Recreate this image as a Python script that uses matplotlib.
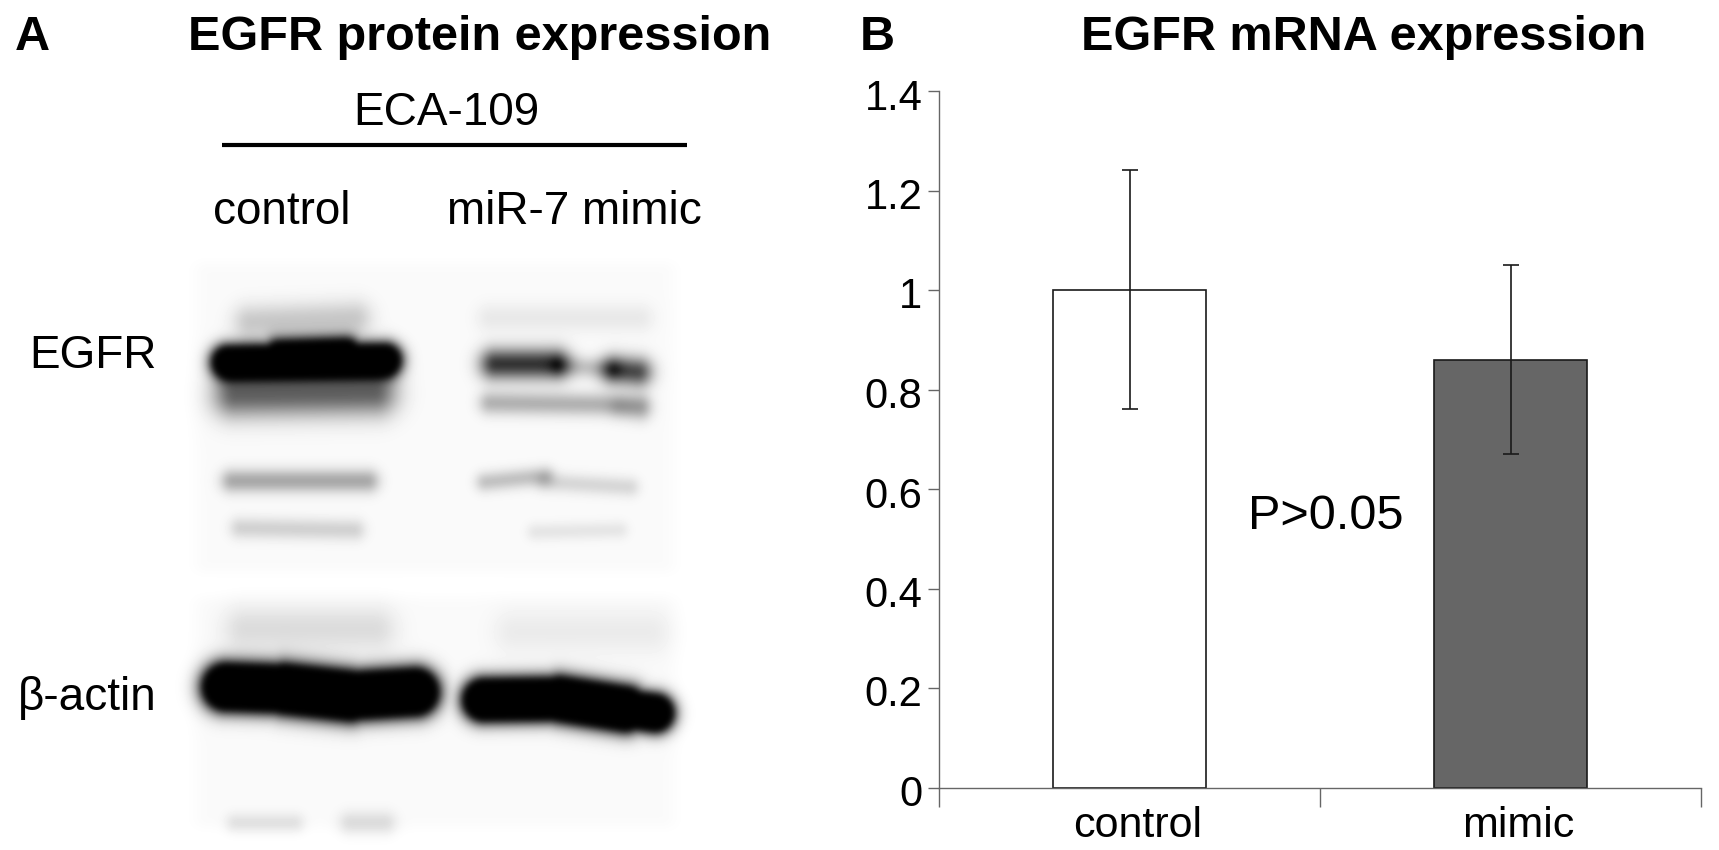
#!/usr/bin/env python3
"""
Western blot panel (A) and EGFR mRNA bar chart (B).
"""

import matplotlib
matplotlib.use('Agg')
import matplotlib.pyplot as plt
import matplotlib.transforms as mtrans
import numpy as np

plt.rcParams['font.family'] = ['Liberation Sans', 'DejaVu Sans']

# Bar chart values
categories = ['control', 'mimic']
means = [1.0, 0.86]
err_lower = [0.24, 0.19]
err_upper = [0.242, 0.191]
bar_colors = ['white', '#666666']
y_ticks = [0, 0.2, 0.4, 0.6, 0.8, 1, 1.2, 1.4]
y_tick_labels = ['0', '0.2', '0.4', '0.6', '0.8', '1', '1.2', '1.4']

# Blot bands: x0, y0, x1, y1, blur, strength (pixels)
faint_bands = [
    # control lane, EGFR part
    (235, 395, 375, 393, 22, 0.6),
    (250, 322, 355, 318, 17, 0.2),
    (232, 481, 368, 481, 11, 0.34),
    (240, 528, 355, 530, 10, 0.17),
    # mimic lane, EGFR part
    (495, 364, 555, 364, 15, 0.8),
    (615, 370, 638, 372, 14, 0.72),
    (560, 366, 612, 369, 10, 0.22),
    (490, 403, 640, 405, 11, 0.3),
    (620, 408, 640, 412, 11, 0.13),
    (490, 318, 640, 318, 14, 0.07),
    (485, 482, 545, 476, 9, 0.24),
    (545, 482, 630, 487, 9, 0.15),
    (535, 532, 620, 530, 8, 0.09),
    # actin part
    (245, 629, 375, 629, 22, 0.12),
    (515, 632, 650, 632, 22, 0.06),
    (235, 823, 295, 823, 9, 0.11),
    (350, 823, 385, 823, 11, 0.13),
]
strong_bands = [
    # control EGFR
    (228, 362, 385, 360, 14, 3.0),
    (280, 358, 345, 356, 15, 3.0),
    # control actin
    (226, 687, 285, 689, 19, 4.0),
    (285, 689, 350, 696, 20, 4.0),
    (350, 696, 415, 692, 19, 4.0),
    # mimic actin
    (484, 700, 560, 699, 17, 4.0),
    (560, 699, 625, 709, 18, 4.0),
    (625, 709, 655, 713, 15, 4.0),
]
blot_panels = [(185, 255, 685, 580), (185, 590, 685, 835)]
blot_background = 0.02


def band_density(xx, yy, band):
    # Soft capsule around a segment, clipped later so strong bands saturate
    x0, y0, x1, y1, blur, strength = band
    dx, dy = x1 - x0, y1 - y0
    t = np.clip(((xx - x0) * dx + (yy - y0) * dy) / (dx * dx + dy * dy), 0, 1)
    dist2 = (xx - x0 - t * dx) ** 2 + (yy - y0 - t * dy) ** 2
    return strength * np.exp(-dist2 / blur ** 2)


def soften(img, sigma):
    # Plain separable gaussian blur, no scipy here
    r = int(3 * sigma)
    kernel = np.exp(-np.arange(-r, r + 1) ** 2 / (2 * sigma ** 2))
    kernel /= kernel.sum()
    img = np.apply_along_axis(lambda v: np.convolve(v, kernel, mode='same'), 0, img)
    return np.apply_along_axis(lambda v: np.convolve(v, kernel, mode='same'), 1, img)


fig = plt.figure(figsize=(17.19, 8.5), dpi=100)
W, H = 1719.0, 850.0

# Panel A: blot drawn as an image in pixel coordinates
ax_blot = fig.add_axes([0, 0, 1, 1])
ax_blot.axis('off')

yy, xx = np.mgrid[0:850, 0:720] + 0.5
density = np.zeros_like(xx)
for x0, y0, x1, y1 in blot_panels:
    edge = (np.clip((xx - x0) / 20, 0, 1) * np.clip((x1 - xx) / 20, 0, 1)
            * np.clip((yy - y0) / 15, 0, 1) * np.clip((y1 - yy) / 15, 0, 1))
    density += blot_background * edge
for band in faint_bands:
    density += band_density(xx, yy, band)
strong = np.zeros_like(xx)
for band in strong_bands:
    strong = np.maximum(strong, band_density(xx, yy, band))
density = np.clip(density + strong, 0, 1)
blot = 1 - soften(density, 3.0)
ax_blot.imshow(blot, cmap='gray', vmin=0, vmax=1, extent=(0, 720, 850, 0),
               aspect='auto', interpolation='bilinear')
ax_blot.set_xlim(0, W)
ax_blot.set_ylim(H, 0)

ax_blot.plot([222, 687], [145, 145], color='black', linewidth=3, solid_capstyle='butt')

ax_blot.text(15, 37, 'A', fontsize=35, fontweight='bold', ha='left', va='center')
ax_blot.text(860, 37, 'B', fontsize=35, fontweight='bold', ha='left', va='center')
ax_blot.text(480, 37, 'EGFR protein expression', fontsize=35, fontweight='bold',
             ha='center', va='center')
ax_blot.text(1364, 37, 'EGFR mRNA expression', fontsize=35, fontweight='bold',
             ha='center', va='center')
ax_blot.text(446, 113, 'ECA-109', fontsize=33, ha='center', va='center')
ax_blot.text(282, 212, 'control', fontsize=33, ha='center', va='center')
ax_blot.text(574, 212, 'miR-7 mimic', fontsize=33, ha='center', va='center')
ax_blot.text(157, 368, 'EGFR', fontsize=33, ha='right', va='baseline')
ax_blot.text(157, 710, 'β-actin', fontsize=33, ha='right', va='baseline')

# Panel B: bar chart
ax = fig.add_axes([939 / W, 1 - 787.5 / H, (1701 - 939) / W, (787.5 - 91) / H])
ax.patch.set_alpha(0)
x = np.arange(len(categories))
ax.bar(x, means, width=0.4, color=bar_colors, edgecolor='#1a1a1a', linewidth=1.2, zorder=2)
ax.errorbar(x, means, yerr=[err_lower, err_upper], fmt='none', ecolor='#1a1a1a',
            elinewidth=1.2, capsize=5.5, capthick=1.2, zorder=3)

ax.set_xlim(-0.5, 1.5)
ax.set_ylim(0, 1.4)
ax.set_yticks(y_ticks)
ax.set_yticklabels(y_tick_labels, fontsize=30)
ax.set_xticks([-0.5, 0.5, 1.5])
ax.set_xticklabels([])
ax.set_xticks(x, minor=True)
ax.set_xticklabels(categories, minor=True, fontsize=31)
ax.tick_params(axis='y', length=8, width=1, color='#666666', pad=4)
ax.tick_params(axis='x', which='major', length=14, width=1, color='#666666')
ax.tick_params(axis='x', which='minor', length=0, pad=13)
for side in ['top', 'right']:
    ax.spines[side].set_visible(False)
for side in ['left', 'bottom']:
    ax.spines[side].set_color('#666666')
    ax.spines[side].set_linewidth(1)

# Labels in the source sit a little off their ticks
for label in ax.get_yticklabels():
    label.set_transform(label.get_transform()
                        + mtrans.ScaledTranslation(0, -0.03, fig.dpi_scale_trans))
for label in ax.get_xticklabels(minor=True):
    label.set_transform(label.get_transform()
                        + mtrans.ScaledTranslation(0.08, 0, fig.dpi_scale_trans))

ax.text(0.516, 0.545, 'P>0.05', fontsize=35, ha='center', va='center', zorder=4)

fig.savefig('out.png', dpi=100)
